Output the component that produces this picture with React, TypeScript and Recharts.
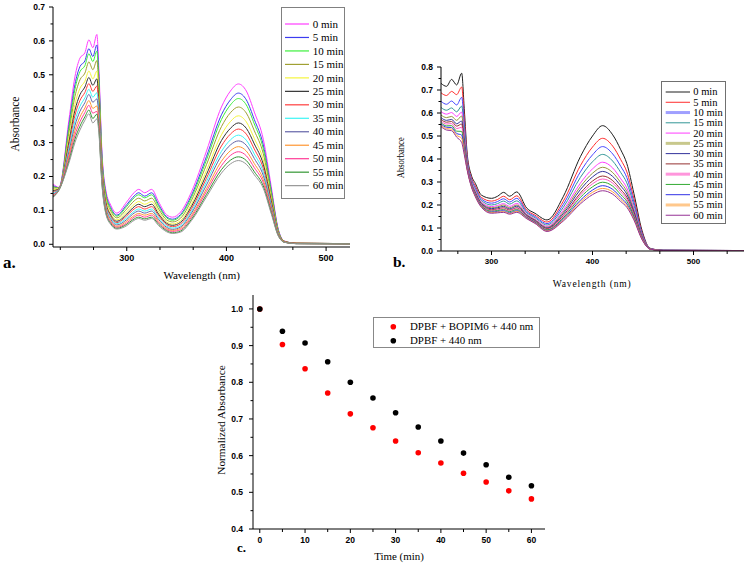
import React from 'react';
import { LineChart, Line, XAxis, YAxis, Legend, ScatterChart, Scatter } from 'recharts';

const SERIF = '"Liberation Serif", "Times New Roman", serif';
const SANS = '"Liberation Sans", Arial, sans-serif';

// ---------------- Panel a: spectra (BOPIM6 + DPBF) ----------------
const WL_A = [226, 232, 242, 248, 253, 258, 262, 266, 270, 272, 275, 279, 284, 290, 300, 306, 312, 318, 325, 332, 340, 346, 354, 365, 380, 395, 404, 412, 420, 428, 437, 445, 452, 458, 470, 524];
const A_0 = [0.178, 0.168, 0.367, 0.494, 0.549, 0.565, 0.603, 0.580, 0.619, 0.520, 0.280, 0.160, 0.115, 0.092, 0.125, 0.148, 0.162, 0.152, 0.162, 0.125, 0.087, 0.080, 0.095, 0.155, 0.275, 0.405, 0.452, 0.473, 0.452, 0.390, 0.310, 0.170, 0.045, 0.010, 0.003, 0.002];
const A_5 = [0.173, 0.167, 0.352, 0.471, 0.524, 0.541, 0.577, 0.554, 0.588, 0.497, 0.268, 0.152, 0.108, 0.086, 0.117, 0.138, 0.152, 0.142, 0.152, 0.117, 0.081, 0.074, 0.088, 0.145, 0.259, 0.382, 0.426, 0.446, 0.426, 0.368, 0.293, 0.160, 0.043, 0.009, 0.003, 0.002];
const A_10 = [0.170, 0.166, 0.343, 0.457, 0.509, 0.527, 0.562, 0.539, 0.570, 0.484, 0.261, 0.147, 0.104, 0.083, 0.112, 0.133, 0.146, 0.137, 0.146, 0.112, 0.078, 0.071, 0.084, 0.139, 0.249, 0.368, 0.411, 0.430, 0.411, 0.355, 0.282, 0.155, 0.041, 0.009, 0.003, 0.002];
const A_15 = [0.166, 0.166, 0.329, 0.436, 0.485, 0.505, 0.538, 0.515, 0.542, 0.463, 0.250, 0.139, 0.098, 0.078, 0.104, 0.124, 0.136, 0.128, 0.136, 0.104, 0.072, 0.066, 0.077, 0.130, 0.235, 0.347, 0.388, 0.405, 0.387, 0.335, 0.267, 0.146, 0.039, 0.009, 0.003, 0.002];
const A_20 = [0.161, 0.165, 0.314, 0.413, 0.460, 0.481, 0.511, 0.488, 0.511, 0.440, 0.238, 0.131, 0.091, 0.072, 0.096, 0.114, 0.126, 0.118, 0.126, 0.096, 0.066, 0.060, 0.070, 0.119, 0.218, 0.323, 0.362, 0.379, 0.361, 0.312, 0.249, 0.136, 0.037, 0.008, 0.003, 0.002];
const A_25 = [0.158, 0.164, 0.302, 0.395, 0.441, 0.464, 0.492, 0.469, 0.488, 0.423, 0.229, 0.124, 0.086, 0.068, 0.089, 0.107, 0.118, 0.111, 0.118, 0.089, 0.062, 0.056, 0.065, 0.112, 0.206, 0.306, 0.342, 0.358, 0.342, 0.296, 0.236, 0.129, 0.035, 0.008, 0.003, 0.002];
const A_30 = [0.154, 0.163, 0.292, 0.380, 0.424, 0.448, 0.474, 0.451, 0.467, 0.408, 0.221, 0.119, 0.081, 0.064, 0.084, 0.101, 0.111, 0.104, 0.111, 0.084, 0.058, 0.052, 0.060, 0.105, 0.195, 0.290, 0.325, 0.340, 0.325, 0.281, 0.224, 0.123, 0.033, 0.008, 0.003, 0.002];
const A_35 = [0.151, 0.163, 0.282, 0.364, 0.407, 0.432, 0.457, 0.434, 0.447, 0.393, 0.213, 0.113, 0.077, 0.061, 0.078, 0.094, 0.104, 0.098, 0.104, 0.078, 0.054, 0.048, 0.055, 0.098, 0.185, 0.274, 0.308, 0.322, 0.307, 0.266, 0.213, 0.116, 0.032, 0.007, 0.002, 0.001];
const A_40 = [0.148, 0.162, 0.273, 0.350, 0.392, 0.418, 0.442, 0.419, 0.429, 0.379, 0.206, 0.108, 0.073, 0.057, 0.073, 0.089, 0.098, 0.092, 0.098, 0.073, 0.050, 0.044, 0.051, 0.092, 0.175, 0.261, 0.293, 0.305, 0.292, 0.253, 0.203, 0.111, 0.030, 0.007, 0.002, 0.001];
const A_45 = [0.145, 0.161, 0.263, 0.335, 0.375, 0.402, 0.424, 0.401, 0.408, 0.364, 0.198, 0.103, 0.068, 0.053, 0.068, 0.082, 0.091, 0.086, 0.091, 0.068, 0.046, 0.041, 0.047, 0.085, 0.164, 0.245, 0.276, 0.288, 0.275, 0.238, 0.191, 0.104, 0.029, 0.007, 0.002, 0.001];
const A_50 = [0.143, 0.161, 0.255, 0.322, 0.361, 0.389, 0.410, 0.387, 0.392, 0.352, 0.192, 0.098, 0.065, 0.050, 0.063, 0.077, 0.086, 0.080, 0.086, 0.063, 0.043, 0.038, 0.043, 0.080, 0.156, 0.232, 0.262, 0.273, 0.261, 0.226, 0.182, 0.099, 0.027, 0.006, 0.002, 0.001];
const A_55 = [0.140, 0.160, 0.246, 0.310, 0.348, 0.376, 0.396, 0.371, 0.384, 0.340, 0.185, 0.094, 0.061, 0.047, 0.059, 0.072, 0.080, 0.075, 0.080, 0.059, 0.040, 0.034, 0.039, 0.074, 0.147, 0.220, 0.248, 0.258, 0.247, 0.214, 0.172, 0.094, 0.026, 0.006, 0.002, 0.001];
const A_60 = [0.138, 0.160, 0.240, 0.300, 0.337, 0.366, 0.385, 0.358, 0.370, 0.330, 0.180, 0.090, 0.058, 0.045, 0.055, 0.068, 0.076, 0.071, 0.076, 0.055, 0.037, 0.032, 0.036, 0.070, 0.140, 0.210, 0.237, 0.247, 0.236, 0.205, 0.165, 0.090, 0.025, 0.006, 0.002, 0.001];
const SERIES_A = [A_0, A_5, A_10, A_15, A_20, A_25, A_30, A_35, A_40, A_45, A_50, A_55, A_60];

const NAMES = ['0 min', '5 min', '10 min', '15 min', '20 min', '25 min', '30 min', '35 min', '40 min', '45 min', '50 min', '55 min', '60 min'];
const COLORS_A = ['#ff3cff', '#3c3cf0', '#3cf03c', '#a0a032', '#f5f53c', '#323232', '#ff3c3c', '#3cf5f5', '#6464a8', '#ff9632', '#ff3c96', '#329632', '#969696'];

// ---------------- Panel b: spectra (DPBF alone) ----------------
const WL_B = [250, 255.5, 260.5, 265.5, 270.5, 273, 276, 280, 284, 290, 300, 306, 312, 318, 325, 335, 343, 355, 371, 388, 400, 410, 420, 428, 434, 441, 449, 457, 470, 550];
const B_0 = [0.729, 0.716, 0.746, 0.722, 0.773, 0.620, 0.420, 0.330, 0.294, 0.243, 0.229, 0.238, 0.255, 0.238, 0.257, 0.186, 0.164, 0.135, 0.236, 0.410, 0.500, 0.545, 0.505, 0.440, 0.380, 0.250, 0.090, 0.012, 0.003, 0.002];
const B_5 = [0.688, 0.676, 0.694, 0.680, 0.713, 0.582, 0.407, 0.321, 0.283, 0.233, 0.217, 0.224, 0.238, 0.223, 0.240, 0.177, 0.156, 0.126, 0.216, 0.371, 0.452, 0.490, 0.456, 0.397, 0.344, 0.228, 0.082, 0.011, 0.003, 0.002];
const B_10 = [0.651, 0.638, 0.652, 0.635, 0.668, 0.556, 0.398, 0.314, 0.275, 0.226, 0.208, 0.215, 0.227, 0.213, 0.229, 0.171, 0.150, 0.119, 0.202, 0.344, 0.418, 0.454, 0.422, 0.368, 0.319, 0.213, 0.077, 0.011, 0.003, 0.002];
const B_15 = [0.624, 0.612, 0.622, 0.605, 0.630, 0.532, 0.389, 0.308, 0.268, 0.220, 0.200, 0.206, 0.217, 0.204, 0.218, 0.166, 0.145, 0.113, 0.189, 0.320, 0.388, 0.420, 0.391, 0.341, 0.296, 0.199, 0.072, 0.010, 0.003, 0.002];
const B_20 = [0.606, 0.595, 0.602, 0.585, 0.604, 0.508, 0.381, 0.302, 0.262, 0.213, 0.193, 0.198, 0.206, 0.194, 0.207, 0.160, 0.139, 0.107, 0.177, 0.295, 0.357, 0.386, 0.361, 0.314, 0.274, 0.186, 0.068, 0.010, 0.003, 0.002];
const B_25 = [0.591, 0.580, 0.585, 0.568, 0.587, 0.493, 0.376, 0.298, 0.257, 0.209, 0.188, 0.192, 0.200, 0.188, 0.200, 0.157, 0.136, 0.103, 0.169, 0.280, 0.338, 0.364, 0.341, 0.297, 0.259, 0.177, 0.065, 0.009, 0.003, 0.002];
const B_30 = [0.580, 0.568, 0.572, 0.553, 0.565, 0.480, 0.371, 0.295, 0.253, 0.206, 0.184, 0.188, 0.194, 0.183, 0.195, 0.154, 0.133, 0.100, 0.162, 0.267, 0.322, 0.346, 0.324, 0.283, 0.247, 0.170, 0.062, 0.009, 0.003, 0.002];
const B_35 = [0.572, 0.560, 0.563, 0.543, 0.552, 0.466, 0.366, 0.292, 0.249, 0.202, 0.179, 0.183, 0.188, 0.178, 0.188, 0.151, 0.130, 0.097, 0.154, 0.252, 0.304, 0.326, 0.306, 0.267, 0.234, 0.161, 0.059, 0.009, 0.002, 0.001];
const B_40 = [0.565, 0.552, 0.554, 0.532, 0.538, 0.457, 0.363, 0.289, 0.247, 0.200, 0.176, 0.179, 0.184, 0.174, 0.184, 0.149, 0.128, 0.094, 0.150, 0.243, 0.292, 0.313, 0.295, 0.257, 0.225, 0.156, 0.057, 0.009, 0.002, 0.001];
const B_45 = [0.558, 0.544, 0.545, 0.521, 0.520, 0.447, 0.359, 0.287, 0.244, 0.197, 0.173, 0.176, 0.180, 0.171, 0.180, 0.146, 0.126, 0.092, 0.144, 0.233, 0.279, 0.299, 0.282, 0.245, 0.216, 0.151, 0.055, 0.009, 0.002, 0.001];
const B_50 = [0.552, 0.538, 0.537, 0.511, 0.504, 0.436, 0.356, 0.284, 0.241, 0.194, 0.169, 0.172, 0.175, 0.166, 0.175, 0.144, 0.124, 0.089, 0.138, 0.221, 0.265, 0.284, 0.268, 0.233, 0.205, 0.144, 0.053, 0.008, 0.002, 0.001];
const B_55 = [0.546, 0.532, 0.530, 0.503, 0.490, 0.428, 0.353, 0.282, 0.238, 0.192, 0.167, 0.169, 0.171, 0.163, 0.172, 0.142, 0.122, 0.087, 0.134, 0.213, 0.255, 0.272, 0.257, 0.224, 0.198, 0.140, 0.052, 0.008, 0.002, 0.001];
const B_60 = [0.541, 0.526, 0.523, 0.495, 0.471, 0.420, 0.350, 0.280, 0.236, 0.190, 0.164, 0.166, 0.168, 0.160, 0.168, 0.140, 0.120, 0.085, 0.130, 0.205, 0.245, 0.262, 0.247, 0.215, 0.190, 0.135, 0.050, 0.008, 0.002, 0.001];
const SERIES_B = [B_0, B_5, B_10, B_15, B_20, B_25, B_30, B_35, B_40, B_45, B_50, B_55, B_60];
const COLORS_B = ['#1e1e1e', '#ff2d2d', '#4646ff', '#329696', '#ff3cff', '#96963c', '#32329b', '#963232', '#ff5ac8', '#32aa32', '#3232e6', '#ffa03c', '#963296'];
const LEGEND_THICK_B = [1, 1, 3, 1, 1, 3, 1, 1, 3, 1, 1, 3, 1];
const LEGEND_COLOR_B = ['#1e1e1e', '#ff2d2d', '#a0a0ff', '#329696', '#ff3cff', '#c8c88c', '#32329b', '#963232', '#ff96dc', '#32aa32', '#3232e6', '#ffc88c', '#963296'];

// ---------------- Panel c: normalized absorbance ----------------
const T_C = [0, 5, 10, 15, 20, 25, 30, 35, 40, 45, 50, 55, 60];
const RED_C = [1.0, 0.903, 0.837, 0.771, 0.714, 0.676, 0.640, 0.608, 0.580, 0.552, 0.528, 0.504, 0.482];
const BLACK_C = [1.0, 0.939, 0.907, 0.856, 0.800, 0.757, 0.717, 0.678, 0.640, 0.607, 0.575, 0.541, 0.518];
const C_NAMES = ['DPBF + BOPIM6 + 440 nm', 'DPBF + 440 nm'];
const C_COLORS = ['#ff0000', '#000000'];

// ---------------- Ticks ----------------
const A_XTICKS = [233.333, 266.667, 300, 333.333, 366.667, 400, 433.333, 466.667, 500];
const B_XTICKS = [266.667, 300, 333.333, 366.667, 400, 433.333, 466.667, 500, 533.333];
const AB_XMAJOR = [300, 400, 500];
const A_YTICKS = [0, 0.05, 0.1, 0.15, 0.2, 0.25, 0.3, 0.35, 0.4, 0.45, 0.5, 0.55, 0.6, 0.65, 0.7];
const B_YTICKS = [0, 0.05, 0.1, 0.15, 0.2, 0.25, 0.3, 0.35, 0.4, 0.45, 0.5, 0.55, 0.6, 0.65, 0.7, 0.75, 0.8];
const C_XTICKS = [0, 5, 10, 15, 20, 25, 30, 35, 40, 45, 50, 55, 60];
const C_XMAJOR = [0, 10, 20, 30, 40, 50, 60];
const C_YTICKS = [0.4, 0.45, 0.5, 0.55, 0.6, 0.65, 0.7, 0.75, 0.8, 0.85, 0.9, 0.95, 1.0];

const KEYS = NAMES.map((_, i) => 's' + i);

function buildRows(wl: number[], series: number[][]) {
  return wl.map((w, i) => {
    const r: any = { wl: w };
    series.forEach((s, j) => {
      r[KEYS[j]] = s[i];
    });
    return r;
  });
}
const ROWS_A = buildRows(WL_A, SERIES_A);
const ROWS_B = buildRows(WL_B, SERIES_B);
const DATA_C_RED = T_C.map((t, i) => ({ t, v: RED_C[i] }));
const DATA_C_BLACK = T_C.map((t, i) => ({ t, v: BLACK_C[i] }));

function makeYTick(fontSize: number, gap: number) {
  return (props: any) => {
    const { x, y, payload } = props;
    const v = payload.value;
    const major = Math.abs(v * 10 - Math.round(v * 10)) < 1e-6;
    const len = major ? 4 : 2.5;
    return (
      <g>
        <line x1={x - len} x2={x} y1={y} y2={y} stroke="#000" strokeWidth={1} />
        {major ? (
          <text x={x - 4 - gap} y={y} dy="0.35em" textAnchor="end" fontFamily={SANS} fontWeight="bold" fontSize={fontSize} fill="#000">
            {v.toFixed(1)}
          </text>
        ) : null}
      </g>
    );
  };
}

function makeXTick(fontSize: number, majors: number[], baseOff: number) {
  return (props: any) => {
    const { x, y, payload } = props;
    const v = payload.value;
    const major = majors.some((m) => Math.abs(m - v) < 1e-6);
    const len = major ? 4 : 3;
    return (
      <g>
        <line x1={x} x2={x} y1={y} y2={y + len} stroke="#000" strokeWidth={1} />
        {major ? (
          <text x={x} y={y + baseOff} textAnchor="middle" fontFamily={SANS} fontWeight="bold" fontSize={fontSize} fill="#000">
            {String(Math.round(v))}
          </text>
        ) : null}
      </g>
    );
  };
}

function orderPayload(payload: any[], names: string[]) {
  return [...(payload || [])].sort((a, b) => names.indexOf(a.value) - names.indexOf(b.value));
}

function SpectraLegend(props: any) {
  const { payload, w, h, first, step, x0, x1, tx, fontSize, thick, colors, border } = props;
  const items = orderPayload(payload, NAMES);
  return (
    <div style={{ width: w, height: h, border: `1px solid ${border}`, boxSizing: 'border-box', background: '#fff' }}>
      <svg width={w - 2} height={h - 2} style={{ display: 'block' }}>
        {items.map((p: any, i: number) => {
          const idx = NAMES.indexOf(p.value);
          const yy = first + i * step - 1;
          return (
            <g key={p.value}>
              <line x1={x0 - 1} x2={x1 - 1} y1={yy} y2={yy} stroke={colors ? colors[idx] : p.color} strokeWidth={thick ? thick[idx] : 1.2} />
              <text x={tx - 1} y={yy} dy="0.33em" fontFamily={SERIF} fontSize={fontSize} fill="#000">
                {p.value}
              </text>
            </g>
          );
        })}
      </svg>
    </div>
  );
}

function ScatterLegend(props: any) {
  const items = orderPayload(props.payload, C_NAMES);
  return (
    <div style={{ width: 167, height: 31, border: '1px solid #888', boxSizing: 'border-box', background: '#fff' }}>
      <svg width={165} height={29} style={{ display: 'block' }}>
        {items.map((p: any, i: number) => {
          const idx = C_NAMES.indexOf(p.value);
          const yy = 8.7 + i * 14;
          return (
            <g key={p.value}>
              <circle cx={19.3} cy={yy} r={2.8} fill={C_COLORS[idx]} />
              <text x={36} y={yy} dy="0.33em" fontFamily={SERIF} fontSize={10.9} fill="#000">
                {p.value}
              </text>
            </g>
          );
        })}
      </svg>
    </div>
  );
}

export default function App() {
  return (
    <div style={{ position: 'absolute', left: 0, top: 0, width: 749, height: 569, background: '#fff', overflow: 'hidden' }}>
      {/* Panel a */}
      <div style={{ position: 'absolute', left: 0, top: 0 }}>
        <LineChart width={360} height={290} data={ROWS_A} margin={{ top: 7, right: 10, bottom: 13, left: 0 }}>
          <XAxis
            dataKey="wl"
            type="number"
            domain={[226, 524]}
            ticks={A_XTICKS}
            interval={0}
            height={30}
            tickSize={0}
            tickMargin={0}
            tickLine={false}
            axisLine={{ stroke: '#000', strokeWidth: 1 }}
            tick={makeXTick(9, AB_XMAJOR, 14.3)}
            allowDataOverflow
          />
          <YAxis
            type="number"
            domain={[-0.008, 0.7]}
            ticks={A_YTICKS}
            interval={0}
            width={53}
            tickSize={0}
            tickMargin={0}
            tickLine={false}
            axisLine={{ stroke: '#000', strokeWidth: 1 }}
            tick={makeYTick(8.5, 4)}
            allowDataOverflow
          />
          {KEYS.map((k, j) => (
            <Line key={k} dataKey={k} name={NAMES[j]} type="monotone" stroke={COLORS_A[j]} strokeWidth={1} dot={false} activeDot={false} isAnimationActive={false} />
          ))}
          <Legend
            layout="vertical"
            align="center"
            verticalAlign="middle"
            wrapperStyle={{ left: 281, top: 7, width: 64, height: 192 }}
            content={(p: any) => (
              <SpectraLegend payload={p.payload} w={64} h={192} first={17} step={13.47} x0={4} x1={28} tx={31.7} fontSize={11} border="#808080" />
            )}
          />
        </LineChart>
      </div>

      {/* Panel b */}
      <div style={{ position: 'absolute', left: 380, top: 0 }}>
        <LineChart width={369} height={290} data={ROWS_B} margin={{ top: 67, right: 5, bottom: 9, left: 0 }}>
          <XAxis
            dataKey="wl"
            type="number"
            domain={[250, 550]}
            ticks={B_XTICKS}
            interval={0}
            height={30}
            tickSize={0}
            tickMargin={0}
            tickLine={false}
            axisLine={{ stroke: '#000', strokeWidth: 1 }}
            tick={makeXTick(8, AB_XMAJOR, 12.5)}
            allowDataOverflow
          />
          <YAxis
            type="number"
            domain={[0, 0.8]}
            ticks={B_YTICKS}
            interval={0}
            width={61}
            tickSize={0}
            tickMargin={0}
            tickLine={false}
            axisLine={{ stroke: '#000', strokeWidth: 1 }}
            tick={makeYTick(8.5, 4)}
            allowDataOverflow
          />
          {KEYS.map((k, j) => (
            <Line key={k} dataKey={k} name={NAMES[j]} type="monotone" stroke={COLORS_B[j]} strokeWidth={1} dot={false} activeDot={false} isAnimationActive={false} />
          ))}
          <Legend
            layout="vertical"
            align="center"
            verticalAlign="middle"
            wrapperStyle={{ left: 281, top: 80.7, width: 65, height: 143.3 }}
            content={(p: any) => (
              <SpectraLegend payload={p.payload} w={65} h={143.3} first={11} step={10.27} x0={4.7} x1={29} tx={32.3} fontSize={10.5} thick={LEGEND_THICK_B} colors={LEGEND_COLOR_B} border="#707070" />
            )}
          />
        </LineChart>
      </div>

      {/* Panel c */}
      <div style={{ position: 'absolute', left: 200, top: 290 }}>
        <ScatterChart width={360} height={279} margin={{ top: 5, right: 15, bottom: 10, left: 0 }}>
          <XAxis
            dataKey="t"
            type="number"
            domain={[-1.5, 63]}
            ticks={C_XTICKS}
            interval={0}
            height={30}
            tickSize={0}
            tickMargin={0}
            tickLine={false}
            axisLine={{ stroke: '#000', strokeWidth: 1 }}
            tick={makeXTick(8.5, C_XMAJOR, 13.5)}
            allowDataOverflow
          />
          <YAxis
            dataKey="v"
            type="number"
            domain={[0.4, 1.038]}
            ticks={C_YTICKS}
            interval={0}
            width={53}
            tickSize={0}
            tickMargin={0}
            tickLine={false}
            axisLine={{ stroke: '#000', strokeWidth: 1 }}
            tick={makeYTick(8.5, 6)}
            allowDataOverflow
          />
          <Scatter
            name={C_NAMES[0]}
            data={DATA_C_RED}
            fill={C_COLORS[0]}
            isAnimationActive={false}
            shape={(p: any) => <circle cx={p.cx} cy={p.cy} r={2.8} fill={C_COLORS[0]} />}
          />
          <Scatter
            name={C_NAMES[1]}
            data={DATA_C_BLACK}
            fill={C_COLORS[1]}
            isAnimationActive={false}
            shape={(p: any) => <circle cx={p.cx} cy={p.cy} r={2.8} fill={C_COLORS[1]} />}
          />
          <Legend
            layout="vertical"
            align="center"
            verticalAlign="middle"
            wrapperStyle={{ left: 173, top: 27.3, width: 167, height: 31 }}
            content={(p: any) => <ScatterLegend payload={p.payload} />}
          />
        </ScatterChart>
      </div>

      {/* Titles and panel letters */}
      <svg width={749} height={569} style={{ position: 'absolute', left: 0, top: 0, pointerEvents: 'none' }}>
        <text transform="translate(15,124) rotate(-90)" textAnchor="middle" dy="0.33em" fontFamily={SERIF} fontSize={11.5} fill="#000">Absorbance</text>
        <text x={201.7} y={279} textAnchor="middle" fontFamily={SERIF} fontSize={11} fill="#000">Wavelength (nm)</text>
        <text x={3} y={268} fontFamily={SERIF} fontWeight="bold" fontSize={17} fill="#000">a.</text>

        <text transform="translate(401,157.8) rotate(-90)" textAnchor="middle" dy="0.33em" fontFamily={SERIF} fontSize={10} textLength={41} lengthAdjust="spacingAndGlyphs" fill="#000">Absorbance</text>
        <text x={552.7} y={287} fontFamily={SERIF} fontSize={9.5} textLength={78} lengthAdjust="spacing" fill="#000">Wavelength (nm)</text>
        <text x={393} y={266.7} fontFamily={SERIF} fontWeight="bold" fontSize={15.5} fill="#000">b.</text>

        <text transform="translate(221.7,420) rotate(-90)" textAnchor="middle" dy="0.33em" fontFamily={SERIF} fontSize={11.3} fill="#000">Normalized Absorbance</text>
        <text x={399} y={560} textAnchor="middle" fontFamily={SERIF} fontSize={10.9} fill="#000">Time (min)</text>
        <text x={237} y={552} fontFamily={SERIF} fontWeight="bold" fontSize={13} fill="#000">c.</text>
      </svg>
    </div>
  );
}
